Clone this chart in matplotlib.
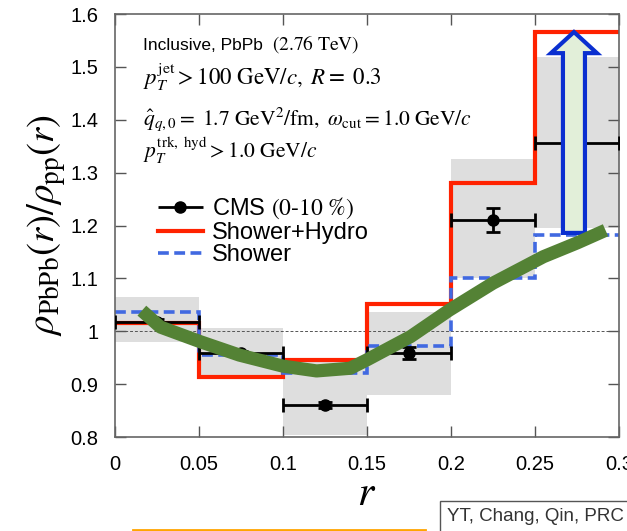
import numpy as np
import matplotlib
matplotlib.use('Agg')
import matplotlib.pyplot as plt
from matplotlib.patches import FancyArrow
from matplotlib.legend_handler import HandlerErrorbar

plt.rcParams['font.family'] = ['Liberation Sans', 'DejaVu Sans']
plt.rcParams['mathtext.fontset'] = 'stix'

# bin edges in r
edges = np.array([0.0, 0.05, 0.10, 0.15, 0.20, 0.25, 0.30])
r_mid = np.array([0.025, 0.075, 0.125, 0.175, 0.225, 0.275])

# CMS (0-10%) data
cms_val = np.array([1.018, 0.959, 0.861, 0.959, 1.210, 1.356])
cms_err = np.array([0.005, 0.004, 0.006, 0.012, 0.023, 0.004])
sys_lo = np.array([0.980, 0.911, 0.804, 0.879, 1.100, 1.195])
sys_hi = np.array([1.065, 1.006, 0.946, 1.037, 1.325, 1.519])

# model curves
shower_hydro = np.array([1.016, 0.914, 0.946, 1.051, 1.281, 1.566])
shower = np.array([1.036, 0.955, 0.921, 0.972, 1.100, 1.182])

# hand drawn green trend line
trend_r = [0.016, 0.027, 0.051, 0.074, 0.100, 0.120, 0.140, 0.150,
           0.176, 0.199, 0.225, 0.255, 0.275, 0.292]
trend_v = [1.039, 1.008, 0.980, 0.955, 0.934, 0.925, 0.930, 0.946,
           0.990, 1.040, 1.091, 1.141, 1.167, 1.191]

fig = plt.figure(figsize=(6.27, 5.31), dpi=100)
ax = fig.add_axes([0.1834, 0.177, 0.8038, 0.7966])

# systematic boxes
ax.bar(edges[:-1], sys_hi - sys_lo, bottom=sys_lo, width=0.05, align='edge',
       color='#dedede', edgecolor='none', zorder=1)
ax.axhline(1.0, color='#555555', lw=0.7, ls=(0, (3, 2)), zorder=1.5)

red = ax.stairs(shower_hydro, edges, baseline=None, color='#ff2200', lw=3, zorder=2)
blue = ax.stairs(shower, edges, baseline=None, color='#4169e1', lw=2.6,
                 ls=(0, (3, 1.5)), zorder=2.5)
ax.errorbar(r_mid, cms_val, yerr=cms_err, xerr=0.025, fmt='o', color='black',
            ms=8, lw=2, capsize=5, capthick=2, zorder=3)
# legend proxy: horizontal bar only
cms_proxy = ax.errorbar([], [], xerr=[], fmt='o', color='black', ms=8, lw=2,
                        capsize=5, capthick=2)

# hollow arrow
arr = FancyArrow(0.2732, 1.186, 0, 0.38, width=0.0131, head_width=0.0274,
                 head_length=0.04, length_includes_head=True,
                 facecolor='#e2efd9', edgecolor='#0a2fd0', lw=3, zorder=4)
ax.add_patch(arr)

ax.plot(trend_r, trend_v, color='#548235', lw=9.5, solid_capstyle='butt',
        solid_joinstyle='round', zorder=5)

ax.set_xlim(0, 0.3)
ax.set_ylim(0.8, 1.6)
ax.set_xticks([0, 0.05, 0.1, 0.15, 0.2, 0.25, 0.3])
ax.set_xticklabels(['0', '0.05', '0.1', '0.15', '0.2', '0.25', '0.3'])
ax.set_yticks([0.8, 0.9, 1.0, 1.1, 1.2, 1.3, 1.4, 1.5, 1.6])
ax.set_yticklabels(['0.8', '0.9', '1', '1.1', '1.2', '1.3', '1.4', '1.5', '1.6'])
ax.tick_params(direction='in', length=8, width=1, color='#555555',
               top=True, right=True, labelsize=14.5)
ax.tick_params(axis='x', pad=13)
ax.tick_params(axis='y', pad=12)
for s in ax.spines.values():
    s.set_color('#666666')
    s.set_linewidth(1.2)

ax.set_ylabel(r'$\rho_{\mathrm{PbPb}}(r)/\rho_{\mathrm{pp}}(r)$', fontsize=28, labelpad=2)
ax.set_xlabel(r'$r$', fontsize=30, labelpad=0)

ax.text(0.055, 0.915, 'Inclusive, PbPb', transform=ax.transAxes, fontsize=12.5)
ax.text(0.312, 0.915, r'$\mathrm{(2.76\ TeV)}$', transform=ax.transAxes, fontsize=14)
ax.text(0.055, 0.832, r'$p_T^{\mathrm{jet}} > 100\ \mathrm{GeV}/c,\ R\mathrm{=\ 0.3}$',
        transform=ax.transAxes, fontsize=16.5)
ax.text(0.055, 0.738, r'$\hat{q}_{q,0}\mathrm{=\ 1.7\ GeV^2/fm},\ \omega_{\mathrm{cut}} = \mathrm{1.0\ GeV}/c$',
        transform=ax.transAxes, fontsize=15.5)
ax.text(0.055, 0.66, r'$p_T^{\mathrm{trk,\ hyd}} > \mathrm{1.0\ GeV}/c$',
        transform=ax.transAxes, fontsize=15.5)

ax.legend([cms_proxy, red, blue],
          [r'CMS $\mathrm{(0}$-$\mathrm{10\ \%)}$', 'Shower+Hydro', 'Shower'],
          handler_map={cms_proxy: HandlerErrorbar(xerr_size=0.95)},
          loc='upper left', bbox_to_anchor=(0.085, 0.57), frameon=False,
          fontsize=17, handlelength=1.9, labelspacing=0.02, borderpad=0,
          handletextpad=0.4, borderaxespad=0)

fig.text(0.713, 0.018, 'YT, Chang, Qin, PRC', fontsize=13.5, color='#333333',
         bbox=dict(boxstyle='square,pad=0.4', facecolor='white',
                   edgecolor='#555555', lw=1))
fig.add_artist(plt.Line2D([0.212, 0.678], [0.002, 0.002], color='#ffa500', lw=2))

fig.savefig('out.png', dpi=100)
